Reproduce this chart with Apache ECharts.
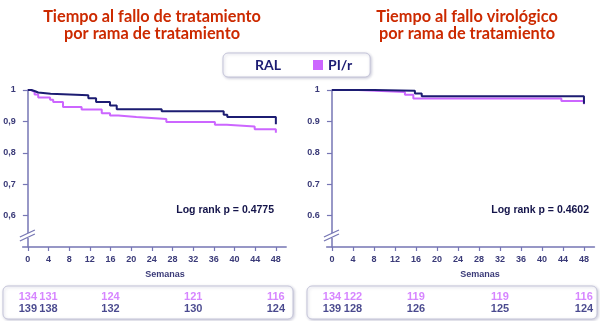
<!DOCTYPE html>
<html><head><meta charset="utf-8">
<script src="https://cdn.jsdelivr.net/npm/echarts@6/dist/echarts.min.js"></script>
<style>html,body{margin:0;padding:0;background:#fff}#c{width:600px;height:321px}</style>
</head><body><div id="c"></div>
<script>
// ---- data ----
const weekTicks = [0, 4, 8, 12, 16, 20, 24, 28, 32, 36, 40, 44, 48];
const survTicks = [0.6, 0.7, 0.8, 0.9, 1];
// Left panel: time to treatment failure  [week, survival]
const leftRAL = [[0,1],[0.7,0.996],[1.4,0.992],[2,0.988],[4.4,0.983],[11.7,0.974],[13.2,0.962],[15.9,0.951],[17.2,0.939],[25.9,0.932],[37.9,0.921],[38.6,0.914],[48,0.891]];
const leftPIr = [[0,1],[0.6,0.994],[1.3,0.986],[2,0.976],[4.3,0.969],[4.9,0.962],[6.8,0.946],[10.4,0.938],[14.3,0.926],[15.9,0.919],[17.5,0.914],[21.0,0.908],[26.8,0.898],[36.2,0.889],[38.5,0.884],[43.9,0.875],[48,0.864]];
// Right panel: time to virological failure
const rightRAL = [[0,1],[8,0.998],[15.8,0.989],[17.1,0.980],[48,0.956]];
const rightPIr = [[0,1],[5,0.994],[13.9,0.985],[15.5,0.973],[43.7,0.965],[48,0.955]];
// Numbers at risk
const riskWeeks = [0, 4, 16, 32, 48];
const leftRiskPIr = [134, 131, 124, 121, 116];
const leftRiskRAL = [139, 138, 132, 130, 124];
const rightRiskPIr = [134, 122, 119, 119, 116];
const rightRiskRAL = [139, 128, 126, 125, 124];
const pLeft = 'Log rank p = 0.4775';
const pRight = 'Log rank p = 0.4602';

// ---- styles ----
const NAVY = '#1c1c72', VIOLET = '#cc66ff', AXIS = '#7676b4', LBL = '#3a3a78', RED = '#cc2a00';
const chart = echarts.init(document.getElementById('c'), null, {renderer: 'canvas'});

function xAx(gi, show) {
  return {type: 'value', gridIndex: gi, min: -1, max: 50, show: show,
    axisLine: {show: true, onZero: false, lineStyle: {color: AXIS, width: 1.5}},
    axisTick: {show: true, length: 4, customValues: weekTicks, lineStyle: {color: AXIS, width: 1.2}},
    axisLabel: {customValues: weekTicks, margin: 8, fontSize: 9, color: LBL, fontFamily: 'Liberation Sans', fontWeight: 'bold'},
    splitLine: {show: false}};
}
function yAx(gi, comma) {
  return {type: 'value', gridIndex: gi, min: 0.5, max: 1,
    axisLine: {show: true, onZero: true, lineStyle: {color: AXIS, width: 1.5}},
    axisTick: {show: true, length: 5, customValues: survTicks, lineStyle: {color: AXIS, width: 1.2}},
    axisLabel: {customValues: survTicks, margin: 7, fontSize: 9, color: LBL, fontFamily: 'Liberation Sans', fontWeight: 'bold',
      formatter: v => v === 1 ? '1' : (comma ? v.toFixed(1).replace('.', ',') : v.toFixed(1))},
    splitLine: {show: false}};
}
function riskY(gi) {
  return {type: 'category', gridIndex: gi, data: ['RAL', 'PI/r'], show: false};
}
function km(name, data, color, xi) {
  return {name: name, type: 'line', step: 'end', xAxisIndex: xi, yAxisIndex: xi, data: data,
    symbol: 'none', clip: false, lineStyle: {color: color, width: 2}, itemStyle: {color: color}, z: name === 'RAL' ? 3 : 2};
}
function risk(vals, cat, color, xi) {
  return {type: 'scatter', xAxisIndex: xi, yAxisIndex: xi, symbolSize: 0, silent: true,
    data: riskWeeks.map((w, i) => [w, cat, vals[i]]),
    label: {show: true, position: 'inside', formatter: p => String(p.value[2]), color: color,
      fontSize: 11, fontWeight: 'bold', fontFamily: '"Liberation Sans Narrow", "Liberation Sans"'}};
}

const option = {
  animation: false,
  grid: [
    {left: 22.7, top: 90, width: 263.5, height: 157},
    {left: 326.7, top: 90, width: 267.75, height: 157},
    {left: 22.7, top: 290.7, width: 263.5, height: 24},
    {left: 326.7, top: 290.7, width: 267.75, height: 24}
  ],
  xAxis: [xAx(0, true), xAx(1, true), xAx(2, false), xAx(3, false)],
  yAxis: [yAx(0, true), yAx(1, false), riskY(2), riskY(3)],
  legend: {
    left: 223, top: 53, icon: 'rect', itemWidth: 10, itemHeight: 10, itemGap: 32,
    padding: [5, 18, 5, 17], borderColor: '#c4c4d8', borderWidth: 1, borderRadius: 5,
    backgroundColor: '#fff', shadowColor: 'rgba(60,60,110,0.25)', shadowBlur: 3, shadowOffsetX: 1, shadowOffsetY: 1,
    textStyle: {color: NAVY, fontSize: 14, fontWeight: 'bold', fontFamily: 'Lato'},
    data: [{name: 'RAL', itemStyle: {color: 'rgba(0,0,0,0)'}}, {name: 'PI/r'}]
  },
  series: [
    km('PI/r', leftPIr, VIOLET, 0), km('RAL', leftRAL, NAVY, 0),
    km('PI/r', rightPIr, VIOLET, 1), km('RAL', rightRAL, NAVY, 1),
    risk(leftRiskPIr, 'PI/r', VIOLET, 2), risk(leftRiskRAL, 'RAL', NAVY, 2),
    risk(rightRiskPIr, 'PI/r', VIOLET, 3), risk(rightRiskRAL, 'RAL', NAVY, 3)
  ]
};
chart.setOption(option);

// decorations: titles, texts, risk boxes, axis breaks
const titleFont = 'bold 16.3px Lato';
const g = [
  {type: 'text', x: 152, y: 8, style: {text: 'Tiempo al fallo de tratamiento\npor rama de tratamiento', textAlign: 'center', font: titleFont, fill: RED, lineHeight: 17}},
  {type: 'text', x: 467, y: 8, style: {text: 'Tiempo al fallo virológico\npor rama de tratamiento', textAlign: 'center', font: titleFont, fill: RED, lineHeight: 17}},
  {type: 'text', x: 274, y: 205, style: {text: pLeft, textAlign: 'right', font: 'bold 10.5px "Liberation Sans"', fill: '#14144a'}},
  {type: 'text', x: 589, y: 205, style: {text: pRight, textAlign: 'right', font: 'bold 10.5px "Liberation Sans"', fill: '#14144a'}},
  {type: 'text', x: 165, y: 270, style: {text: 'Semanas', textAlign: 'center', font: 'bold 9px "Liberation Sans"', fill: LBL}},
  {type: 'text', x: 480, y: 270, style: {text: 'Semanas', textAlign: 'center', font: 'bold 9px "Liberation Sans"', fill: LBL}},
  {type: 'rect', shape: {x: 3, y: 286, width: 290, height: 33, r: 5}, style: {fill: '#fff', stroke: '#c4c4d8', lineWidth: 1, shadowColor: 'rgba(60,60,110,0.25)', shadowBlur: 3, shadowOffsetX: 1, shadowOffsetY: 1}, z: -1},
  {type: 'rect', shape: {x: 307, y: 286, width: 290, height: 33, r: 5}, style: {fill: '#fff', stroke: '#c4c4d8', lineWidth: 1, shadowColor: 'rgba(60,60,110,0.25)', shadowBlur: 3, shadowOffsetX: 1, shadowOffsetY: 1}, z: -1}
];
[0, 1].forEach(gi => {
  const p = chart.convertToPixel({gridIndex: gi}, [0, 0.535]);
  const cx = p[0], cy = p[1];
  g.push({type: 'rect', shape: {x: cx - 3, y: cy - 3, width: 6, height: 5}, style: {fill: '#fff'}, z: 10});
  g.push({type: 'line', shape: {x1: cx - 8, y1: cy + 5, x2: cx + 7, y2: cy - 2}, style: {stroke: AXIS, lineWidth: 1.3}, z: 11});
  g.push({type: 'line', shape: {x1: cx - 8, y1: cy + 1, x2: cx + 7, y2: cy - 6}, style: {stroke: AXIS, lineWidth: 1.3}, z: 11});
});
chart.setOption({graphic: g});
</script></body></html>
